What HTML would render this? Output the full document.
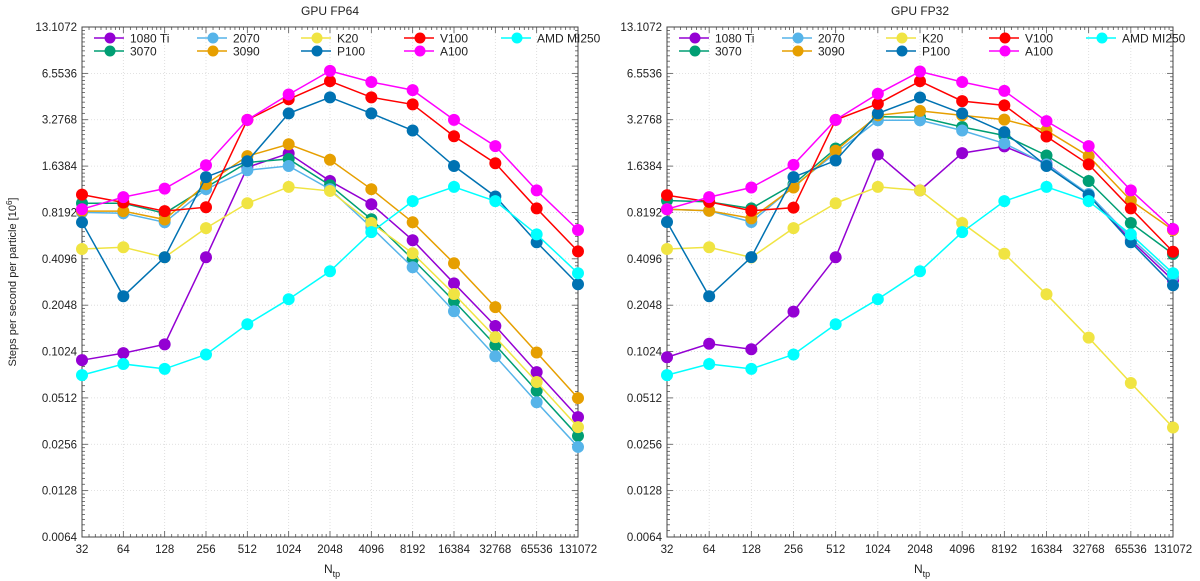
<!DOCTYPE html>
<html><head><meta charset="utf-8">
<style>
html,body{margin:0;padding:0;background:#fff;}
svg{display:block;font-family:"Liberation Sans",sans-serif;}
</style></head>
<body>
<svg id="chart" width="1200" height="581" viewBox="0 0 1200 581" xmlns="http://www.w3.org/2000/svg"></svg>
<script>
const categories = ["32","64","128","256","512","1024","2048","4096","8192","16384","32768","65536","131072"];
const yTickLabels = ["0.0064","0.0128","0.0256","0.0512","0.1024","0.2048","0.4096","0.8192","1.6384","3.2768","6.5536","13.1072"];
const seriesNames = ["1080 Ti","3070","2070","3090","K20","P100","V100","A100","AMD MI250"];
const seriesColors = ["#9400d3","#009e73","#56b4e9","#e69f00","#f0e442","#0072b2","#ff0000","#ff00ff","#00ffff"];
const legendOrder = ["1080 Ti","2070","K20","V100","AMD MI250","3070","3090","P100","A100"];

const fp64_1080Ti = [0.090,0.100,0.114,0.419,1.61,1.98,1.31,0.926,0.541,0.284,0.150,0.0753,0.0384];
const fp64_3070   = [0.94,0.94,0.809,1.19,1.73,1.82,1.23,0.74,0.407,0.218,0.113,0.057,0.0290];
const fp64_2070   = [0.82,0.81,0.707,1.16,1.54,1.64,1.16,0.656,0.361,0.187,0.0955,0.048,0.0246];
const fp64_3090   = [0.835,0.835,0.737,1.25,1.90,2.27,1.80,1.16,0.707,0.383,0.199,0.101,0.051];
const fp64_K20    = [0.474,0.487,0.419,0.648,0.94,1.20,1.13,0.70,0.445,0.242,0.127,0.065,0.0331];
const fp64_P100   = [0.707,0.234,0.419,1.39,1.76,3.6,4.58,3.6,2.79,1.64,1.04,0.525,0.28];
const fp64_V100   = [1.07,0.95,0.835,0.886,3.27,4.45,5.83,4.58,4.12,2.56,1.71,0.87,0.458];
const fp64_A100   = [0.86,1.03,1.17,1.66,3.27,4.78,6.8,5.76,5.1,3.27,2.21,1.14,0.63];
const fp64_MI250  = [0.072,0.085,0.079,0.098,0.154,0.224,0.340,0.61,0.97,1.20,0.97,0.59,0.33];

const fp32_1080Ti = [0.094,0.115,0.106,0.186,0.419,1.95,1.14,1.99,2.2,1.7,1.06,0.54,0.297];
const fp32_3070   = [0.98,0.96,0.87,1.25,2.13,3.43,3.4,2.94,2.59,1.92,1.31,0.70,0.44];
const fp32_2070   = [0.86,0.84,0.71,1.21,1.99,3.25,3.25,2.79,2.3,1.68,1.08,0.56,0.313];
const fp32_3090   = [0.86,0.84,0.75,1.19,2.06,3.5,3.74,3.5,3.28,2.79,1.9,0.98,0.63];
const fp32_K20    = [0.474,0.487,0.418,0.648,0.94,1.2,1.14,0.70,0.442,0.241,0.126,0.064,0.0329];
const fp32_P100   = [0.71,0.234,0.42,1.39,1.78,3.6,4.57,3.6,2.72,1.64,1.06,0.525,0.276];
const fp32_V100   = [1.06,0.96,0.84,0.88,3.27,4.16,5.83,4.33,4.06,2.55,1.68,0.87,0.455];
const fp32_A100   = [0.86,1.03,1.19,1.67,3.27,4.83,6.74,5.76,5.04,3.21,2.21,1.14,0.64];
const fp32_MI250  = [0.072,0.085,0.079,0.098,0.154,0.224,0.34,0.61,0.97,1.2,0.97,0.59,0.33];

const fp64Series = [fp64_1080Ti,fp64_3070,fp64_2070,fp64_3090,fp64_K20,fp64_P100,fp64_V100,fp64_A100,fp64_MI250];
const fp32Series = [fp32_1080Ti,fp32_3070,fp32_2070,fp32_3090,fp32_K20,fp32_P100,fp32_V100,fp32_A100,fp32_MI250];

const NS = "http://www.w3.org/2000/svg";
const svg = document.getElementById("chart");
function mk(tag, attrs, parent, text){
  const e = document.createElementNS(NS, tag);
  for (const k in attrs) e.setAttribute(k, attrs[k]);
  if (text !== undefined) e.textContent = text;
  (parent||svg).appendChild(e);
  return e;
}
const TOP = 27, BOT = 537, YMIN = 0.0064, YMAX = 13.1072;

function drawPanel(x0, x1, title, seriesData, key){
  const g = mk("g", {});
  
  
  const xs = i => x0 + (x1 - x0) * i / (categories.length - 1);
  const ys = v => BOT - (BOT - TOP) * Math.log2(v / YMIN) / Math.log2(YMAX / YMIN);
  // grid
  const grid = mk("g", {stroke:"#d8d8d8","stroke-width":"0.8","stroke-dasharray":"1,2"}, g);
  
  
  categories.forEach((c,i)=>{ mk("line",{x1:xs(i),x2:xs(i),y1:TOP,y2:BOT},grid); });
  yTickLabels.forEach(t=>{ const y=ys(parseFloat(t)); mk("line",{x1:x0,x2:x1,y1:y,y2:y},grid); });
  // minor ticks
  const ticks = mk("g",{stroke:"#555","stroke-width":"0.8"},g);
  
  
  for (let k=0;k<yTickLabels.length-1;k++){
    const base = parseFloat(yTickLabels[k]);
    for (let m=1;m<10;m++){
      const y = ys(base*(1+m/10));
      mk("line",{x1:x0,x2:x0+3,y1:y,y2:y},ticks);
      mk("line",{x1:x1,x2:x1-3,y1:y,y2:y},ticks);
    }
  }
  yTickLabels.forEach(t=>{ const y=ys(parseFloat(t));
    mk("line",{x1:x0,x2:x0+6,y1:y,y2:y},ticks); mk("line",{x1:x1,x2:x1-6,y1:y,y2:y},ticks); });
  categories.forEach((c,i)=>{ mk("line",{x1:xs(i),x2:xs(i),y1:BOT,y2:BOT-6},ticks); mk("line",{x1:xs(i),x2:xs(i),y1:TOP,y2:TOP+6},ticks);
    if (i<categories.length-1) for(let m=1;m<8;m++){ const xx=xs(i)+(xs(i+1)-xs(i))*Math.log2(1+m/8);
      mk("line",{x1:xx,x2:xx,y1:BOT,y2:BOT-3},ticks); mk("line",{x1:xx,x2:xx,y1:TOP,y2:TOP+3},ticks);} });
  // frame
  const fr = mk("rect",{x:x0,y:TOP,width:x1-x0,height:BOT-TOP,fill:"none",stroke:"#444","stroke-width":"1"},g);
  
  
  // tick labels
  yTickLabels.forEach(t=>{
    const tl = mk("text",{x:x0-5,y:ys(parseFloat(t))+4,"text-anchor":"end","font-size":"11.5",fill:"#222"},g,t);
    
    
  });
  categories.forEach((c,i)=>{
    const tl = mk("text",{x:xs(i),y:BOT+16,"text-anchor":"middle","font-size":"11.5",fill:"#222"},g,c);
    
    
  });
  const tt = mk("text",{x:(x0+x1)/2,y:15,"text-anchor":"middle","font-size":"12",fill:"#222"},g,title);
  
  
  const xl = mk("text",{x:(x0+x1)/2-6,y:BOT+36,"font-size":"12",fill:"#222"},g);
  
  
  mk("tspan",{},xl,"N");
  mk("tspan",{dy:"4","font-size":"9"},xl,"tp");
  // series
  seriesData.forEach((vals,s)=>{
    const sg = mk("g",{},g);
    
    
    const pts = vals.map((v,i)=>xs(i)+","+ys(v)).join(" ");
    mk("polyline",{points:pts,fill:"none",stroke:seriesColors[s],"stroke-width":"1.5"},sg);
    vals.forEach((v,i)=>{
      const c = mk("circle",{cx:xs(i),cy:ys(v),r:"6",fill:seriesColors[s]},sg);
      
      
    });
  });
  // legend
  const lg = mk("g",{},g);
  
  
  const colX = [28,131,235,338,435];
  legendOrder.forEach((name,k)=>{
    const s = seriesNames.indexOf(name);
    const row = k<5?0:1, col = k<5?k:k-5;
    const mx = x0 + colX[col], my = 38 + row*13;
    const le = mk("g",{},lg);
    
    
    mk("line",{x1:mx-16,x2:mx+14,y1:my,y2:my,stroke:seriesColors[s],"stroke-width":"1.5"},le);
    mk("circle",{cx:mx,cy:my,r:"5.5",fill:seriesColors[s]},le);
    mk("text",{x:mx+20,y:my+4.5,"font-size":"12",fill:"#222"},le,name);
  });
}
drawPanel(82, 578, "GPU FP64", fp64Series, "fp64");
drawPanel(667, 1173, "GPU FP32", fp32Series, "fp32");
const yl = mk("text",{x:16,y:282,"text-anchor":"middle","font-size":"11",fill:"#222",transform:"rotate(-90 16 282)"});


mk("tspan",{},yl,"Steps per second per particle [10");
mk("tspan",{dy:"-4","font-size":"8"},yl,"6");
mk("tspan",{dy:"4"},yl,"]");
</script>
</body></html>
